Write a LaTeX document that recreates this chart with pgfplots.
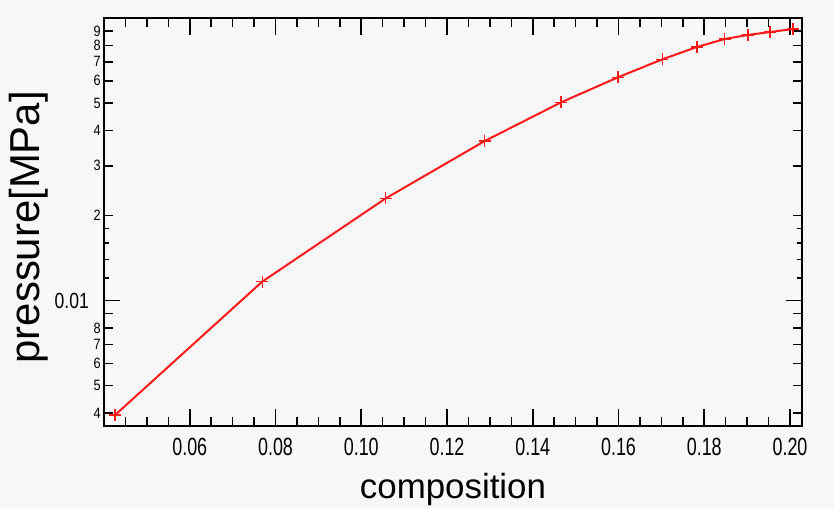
\documentclass[border=0pt]{standalone}
\usepackage{fontspec}
\setmainfont{Liberation Sans}
\usepackage{graphicx}
\usepackage{pgfplots}
\pgfplotsset{compat=1.18}
\definecolor{bg}{RGB}{247,247,247}
\definecolor{pr}{RGB}{255,25,25}
\newcommand\cx[1]{\scalebox{0.72}[1]{#1}}
\newcommand\cy[1]{\scalebox{0.85}[1]{#1}}
\begin{document}
\begin{tikzpicture}
\fill[bg] (-104bp,-82bp) rectangle (730bp,426bp);
\begin{axis}[
  at={(0,0)}, anchor=south west,
  scale only axis, width=698bp, height=408bp,
  xmin=0.04, xmax=0.2028,
  ymode=log, ymin=0.0036, ymax=0.1,
  axis line style={line width=1.8bp},
  tick style={line width=1.6bp, black},
  tick align=inside,
  major tick length=9bp, minor tick length=5bp,
  xtick={0.045,0.05,0.055,0.065,0.07,0.075,0.085,0.09,0.095,0.105,0.11,0.115,0.125,0.13,0.135,0.145,0.15,0.155,0.165,0.17,0.175,0.185,0.19,0.195},
  xticklabels={},
  extra x ticks={0.06,0.08,0.10,0.12,0.14,0.16,0.18,0.20},
  extra x tick labels={\cx{0.06},\cx{0.08},\cx{0.10},\cx{0.12},\cx{0.14},\cx{0.16},\cx{0.18},\cx{0.20}},
  extra x tick style={major tick length=17bp,
    xticklabel style={font=\fontsize{25}{25}\selectfont, inner sep=0pt, yshift=-12bp}},
  ytick={0.004,0.005,0.006,0.007,0.008,0.009,0.02,0.03,0.04,0.05,0.06,0.07,0.08,0.09},
  yticklabels={\cy{4},\cy{5},\cy{6},\cy{7},\cy{8},,\cy{2},\cy{3},\cy{4},\cy{5},\cy{6},\cy{7},\cy{8},\cy{9}},
  yticklabel style={font=\fontsize{15}{15}\selectfont, inner sep=0pt, xshift=-3bp},
  minor ytick={0.012,0.014,0.016,0.018},
  extra y ticks={0.01},
  extra y tick labels={\scalebox{0.8}[1]{0.01}},
  extra y tick style={major tick length=16bp,
    yticklabel style={font=\fontsize{22}{22}\selectfont, inner sep=0pt, xshift=-12bp}},
  xlabel={composition},
  ylabel={pressure[MPa]},
  xlabel style={font=\fontsize{35}{35}\selectfont, at={(axis description cs:0.5,-0.1765)}, anchor=base},
  ylabel style={font=\fontsize{42}{42}\selectfont, at={(axis description cs:-0.0917,0.487)}, anchor=base, rotate=0},
]
\addplot[pr, line width=2bp, mark=+, mark size=6bp, mark options={line width=1.3bp}] coordinates {
  (0.0426,0.00394)
  (0.0769,0.01167)
  (0.1057,0.0230)
  (0.1288,0.0367)
  (0.1466,0.0503)
  (0.1599,0.0617)
  (0.1702,0.0714)
  (0.1783,0.0790)
  (0.1848,0.0843)
  (0.1902,0.0871)
  (0.1953,0.0892)
  (0.2007,0.0914)
};
\end{axis}
\end{tikzpicture}
\end{document}
